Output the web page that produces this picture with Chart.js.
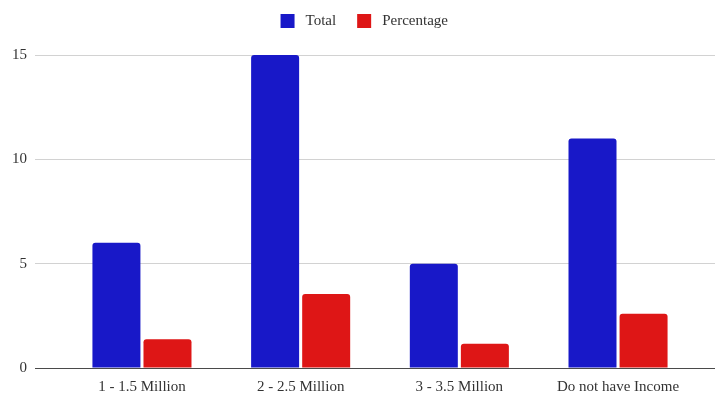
<!DOCTYPE html>
<html>
<head>
<meta charset="utf-8">
<script src="https://cdn.jsdelivr.net/npm/chart.js@4/dist/chart.umd.min.js"></script>
<style>
  html, body { margin: 0; padding: 0; background: #ffffff; }
  canvas { display: block; }
</style>
</head>
<body>
<canvas id="chart" width="715" height="394"></canvas>
<script>
// Income groups and the two series plotted for each
const categories = ['1 - 1.5 Million', '2 - 2.5 Million', '3 - 3.5 Million', 'Do not have Income'];
const totalValues = [6, 15, 5, 11];
const percentageValues = [1.38, 3.55, 1.16, 2.6];
const yTicks = [0, 5, 10, 15];
const seriesNames = ['Total', 'Percentage'];

const BLUE = '#1818c8';
const RED = '#de1616';

Chart.defaults.font.family = '"Liberation Serif", "Times New Roman", serif';
Chart.defaults.font.size = 15;
Chart.defaults.color = '#3a3a3a';

// one point per category index on a numeric x axis
const toPoints = vals => vals.map((v, i) => ({ x: i, y: v }));

// extra room between the legend and the plot
const legendGap = {
  id: 'legendGap',
  beforeInit(chart) {
    const fit = chart.legend.fit;
    chart.legend.fit = function () {
      fit.call(this);
      this.height += 13.5;
    };
  }
};

// legend swatches: a white border trims the box down and widens the gap to the text
function legendLabels(chart) {
  return Chart.defaults.plugins.legend.labels.generateLabels(chart).map(item =>
    Object.assign(item, { strokeStyle: '#ffffff', lineWidth: 7 }));
}

new Chart(document.getElementById('chart'), {
  type: 'bar',
  data: {
    datasets: [
      { label: seriesNames[0], data: toPoints(totalValues), backgroundColor: BLUE, borderWidth: 0, borderRadius: 3 },
      { label: seriesNames[1], data: toPoints(percentageValues), backgroundColor: RED, borderWidth: 0, borderRadius: 3 }
    ]
  },
  options: {
    responsive: false,
    animation: false,
    layout: { padding: { left: 10, right: 0, top: -7, bottom: 0 } },
    datasets: { bar: { categoryPercentage: 0.6435, barPercentage: 0.94 } },
    plugins: {
      tooltip: { enabled: false },
      legend: {
        position: 'top',
        align: 'center',
        labels: {
          boxWidth: 21,
          boxHeight: 21,
          padding: 17.5,
          color: '#333333',
          font: { size: 15 },
          generateLabels: legendLabels
        }
      }
    },
    scales: {
      x: {
        type: 'linear',
        min: -0.674,
        max: 3.611,
        offset: false,
        grid: { display: false, offset: false },
        border: { display: false },
        afterBuildTicks: s => { s.ticks = categories.map((_, i) => ({ value: i })); },
        ticks: {
          callback: v => categories[v] ?? '',
          autoSkip: false,
          maxRotation: 0,
          padding: 2,
          color: '#333333'
        },
        afterFit: s => { s.height = 26; }
      },
      y: {
        min: 0,
        max: 15,
        afterBuildTicks: s => { s.ticks = yTicks.map(v => ({ value: v })); },
        grid: {
          drawTicks: false,
          color: c => (c.tick && c.tick.value === 0) ? '#4a4a4a' : '#d2d2d2',
          lineWidth: 1
        },
        border: { display: false },
        ticks: { padding: 8, color: '#333333' },
        afterFit: s => { s.width = 25; }
      }
    }
  },
  plugins: [legendGap]
});
</script>
</body>
</html>
